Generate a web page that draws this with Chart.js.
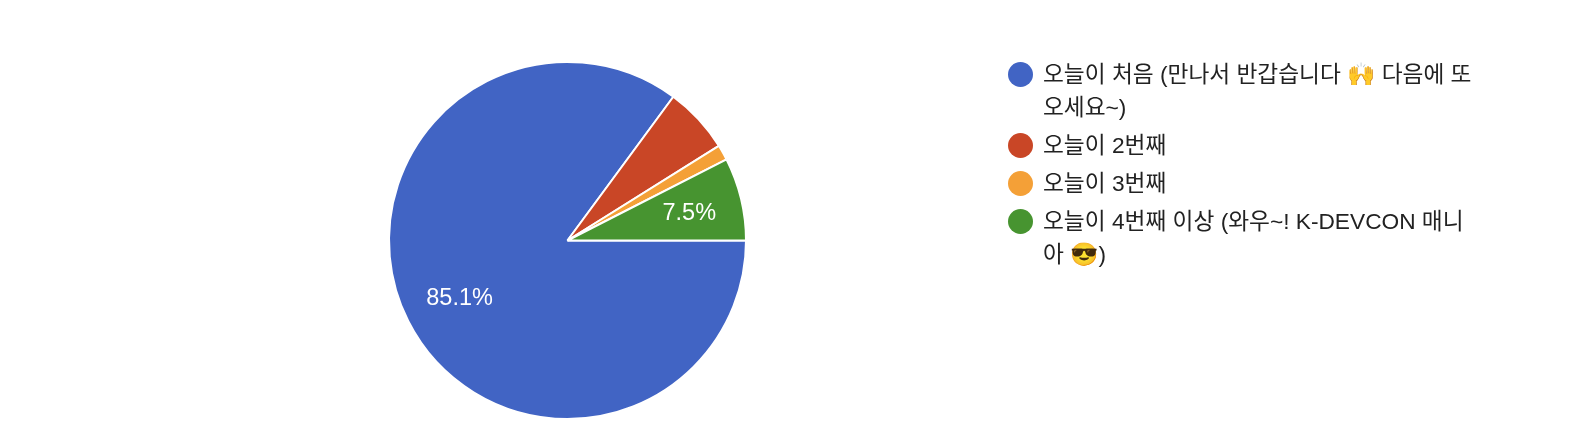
<!DOCTYPE html>
<html>
<head>
<meta charset="utf-8">
<script src="https://cdn.jsdelivr.net/npm/chart.js@4"></script>
<style>
  html, body { margin: 0; padding: 0; background: #fff; }
  #wrap { position: relative; width: 1582px; height: 448px; overflow: hidden; }
  #legend {
    position: absolute; left: 1008px; top: 58px; margin: 0; padding: 0; list-style: none;
    font: 22.7px "Liberation Sans", "Noto Sans CJK KR", "Noto Color Emoji", sans-serif;
    color: #222; line-height: 33px;
  }
  #legend li { display: flex; margin-bottom: 5px; white-space: pre; }
  #legend i { flex: none; width: 25px; height: 25px; border-radius: 50%; margin: 4px 10px 0 0; }
</style>
</head>
<body>
<div id="wrap">
  <canvas id="pie" width="1582" height="448"></canvas>
  <ul id="legend"></ul>
</div>
<script>
const categories = [
  "오늘이 처음 (만나서 반갑습니다 🙌 다음에 또\n오세요~)",
  "오늘이 2번째",
  "오늘이 3번째",
  "오늘이 4번째 이상 (와우~! K-DEVCON 매니\n아 😎)"
];
const values = [85.1, 6.0, 1.4, 7.5];
const sliceColors = ["#4164C4", "#C94626", "#F4A037", "#479430"];
const sliceLabels = ["85.1%", "", "", "7.5%"];

// percent text inside the slices, chart.js has no built in data labels
const sliceLabelPlugin = {
  id: "sliceLabels",
  afterDatasetsDraw(chart) {
    const ctx = chart.ctx;
    const arcs = chart.getDatasetMeta(0).data;
    ctx.save();
    ctx.font = '23.5px "Liberation Sans", sans-serif';
    ctx.fillStyle = "#fff";
    ctx.textAlign = "center";
    ctx.textBaseline = "middle";
    arcs.forEach((arc, i) => {
      if (!sliceLabels[i]) return;
      const mid = (arc.startAngle + arc.endAngle) / 2;
      const r = arc.outerRadius * 0.69;
      ctx.fillText(sliceLabels[i], arc.x + Math.cos(mid) * r + 2, arc.y + Math.sin(mid) * r + 2);
    });
    ctx.restore();
  }
};

// html legend so the long labels can wrap
const htmlLegendPlugin = {
  id: "htmlLegend",
  afterUpdate(chart) {
    const list = document.getElementById("legend");
    list.innerHTML = "";
    chart.options.plugins.legend.labels.generateLabels(chart).forEach(item => {
      const li = document.createElement("li");
      const dot = document.createElement("i");
      dot.style.background = item.fillStyle;
      const text = document.createElement("span");
      text.textContent = item.text;
      li.appendChild(dot);
      li.appendChild(text);
      list.appendChild(li);
    });
  }
};

new Chart("pie", {
  type: "pie",
  data: {
    labels: categories,
    datasets: [{
      data: values,
      backgroundColor: sliceColors,
      borderColor: "#fff",
      borderWidth: 2
    }]
  },
  options: {
    responsive: false,
    animation: false,
    rotation: 90,
    layout: { padding: { left: 0, right: 447, top: 61, bottom: 28 } },
    plugins: {
      legend: { display: false },
      tooltip: { enabled: false }
    }
  },
  plugins: [sliceLabelPlugin, htmlLegendPlugin]
});
</script>
</body>
</html>
